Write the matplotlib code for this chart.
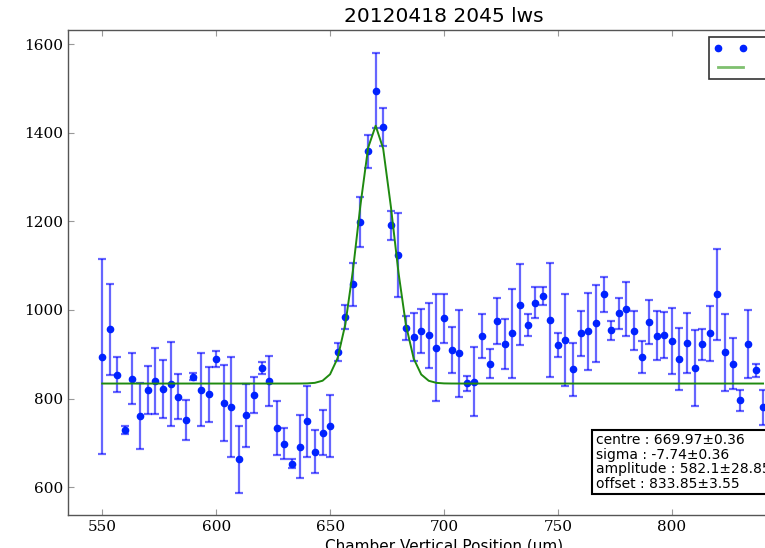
import matplotlib
matplotlib.use('Agg')
import matplotlib.pyplot as plt
import numpy as np
from matplotlib.lines import Line2D

# scan positions (um)
position = [550, 553.3, 556.7, 560, 563.3, 566.7, 570, 573.3, 576.7, 580,
            583.3, 586.7, 590, 593.3, 596.7, 600, 603.3, 606.7, 610, 613.3,
            616.7, 620, 623.3, 626.7, 630, 633.3, 636.7, 640, 643.3, 646.7,
            650, 653.3, 656.7, 660, 663.3, 666.7, 670, 673.3, 676.7, 680,
            683.3, 686.7, 690, 693.3, 696.7, 700, 703.3, 706.7, 710, 713.3,
            716.7, 720, 723.3, 726.7, 730, 733.3, 736.7, 740, 743.3, 746.7,
            750, 753.3, 756.7, 760, 763.3, 766.7, 770, 773.3, 776.7, 780,
            783.3, 786.7, 790, 793.3, 796.7, 800, 803.3, 806.7, 810, 813.3,
            816.7, 820, 823.3, 826.7, 830, 833.3, 836.7, 840]

counts = [894, 956, 854, 729, 845, 761, 819, 840, 822, 832,
          804, 751, 849, 820, 810, 890, 790, 781, 663, 762,
          808, 869, 839, 733, 698, 653, 691, 749, 680, 723,
          738, 905, 985, 1058, 1199, 1358, 1495, 1413, 1191, 1124,
          960, 939, 952, 943, 915, 981, 909, 902, 834, 838,
          941, 879, 975, 923, 947, 1012, 966, 1016, 1031, 977,
          920, 932, 866, 947, 952, 970, 1035, 954, 992, 1003,
          953, 894, 973, 942, 943, 930, 890, 925, 869, 923,
          947, 1035, 904, 879, 796, 924, 864, 780]

counts_err = [220, 102, 40, 9, 57, 74, 54, 75, 66, 95,
              51, 45, 8, 82, 62, 18, 86, 113, 76, 71,
              40, 14, 56, 61, 35, 10, 71, 80, 48, 50,
              69, 21, 27, 48, 56, 38, 85, 42, 32, 94,
              27, 54, 50, 73, 120, 56, 52, 98, 16, 78,
              49, 32, 52, 57, 100, 91, 25, 35, 20, 128,
              27, 104, 60, 50, 87, 87, 40, 22, 34, 61,
              44, 36, 49, 55, 52, 75, 70, 67, 85, 35,
              63, 102, 87, 58, 24, 77, 15, 40]

# gaussian fit result
centre, centre_err = 669.97, 0.36
sigma, sigma_err = -7.74, 0.36
amplitude, amplitude_err = 582.1, 28.85
offset, offset_err = 833.85, 3.55

x = np.array(position)
fit = offset + amplitude * np.exp(-(x - centre) ** 2 / (2 * sigma ** 2))

fig = plt.figure(figsize=(7.65, 5.48), dpi=100)
ax = fig.add_axes([0.0889, 0.0602, 0.983, 0.885])

ax.errorbar(position, counts, yerr=counts_err, fmt='none', ecolor='#0000ff',
            elinewidth=1.6, capsize=3, capthick=1.6, alpha=0.6, zorder=2)
pts, = ax.plot(position, counts, 'o', color='#0022ff', markersize=4.5,
               linestyle='none', zorder=3)
fl, = ax.plot(position, fit, color='#1f8a10', linewidth=1.4, zorder=4)

ax.set_xlim(535, 865)
ax.set_ylim(537, 1632)
ax.set_xticks([550, 600, 650, 700, 750, 800])
ax.set_yticks([600, 800, 1000, 1200, 1400, 1600])
ax.tick_params(direction='in', top=True, right=True, length=4,
               color='#999999', labelsize=11)
plt.setp(ax.get_xticklabels() + ax.get_yticklabels(), family='DejaVu Serif')
for s in ax.spines.values():
    s.set_color('#555555')
    s.set_linewidth(1.0)

ax.set_title('20120418 2045 lws', fontsize=14.5, pad=6)
ax.set_xlabel('Chamber Vertical Position (μm)', fontsize=11, labelpad=4)

leg = ax.legend([Line2D([], [], marker='o', color='#0022ff', linestyle='none',
                        markersize=4.5),
                 Line2D([], [], color='#7fc06f', linewidth=2)],
                ['Data', 'Fit'], numpoints=2, fontsize=9,
                loc='upper left', bbox_to_anchor=(709 / 765, 1 - 37 / 548),
                bbox_transform=fig.transFigure, fancybox=False,
                borderaxespad=0, handlelength=2.6, handletextpad=1.4)
leg.get_frame().set_edgecolor('black')
leg.get_frame().set_linewidth(1.2)

info = ('centre : %.2f\u00b1%.2f\n' % (centre, centre_err) +
        'sigma : %.2f\u00b1%.2f\n' % (sigma, sigma_err) +
        'amplitude : %.1f\u00b1%.2f\n' % (amplitude, amplitude_err) +
        'offset : %.2f\u00b1%.2f' % (offset, offset_err))
ax.text(0.702, 0.169, info, transform=ax.transAxes, fontsize=10,
        va='top', ha='left', linespacing=1.05,
        bbox=dict(boxstyle='square,pad=0.25', facecolor='white',
                  edgecolor='black', linewidth=1.5))

fig.savefig('out.png', dpi=100)
